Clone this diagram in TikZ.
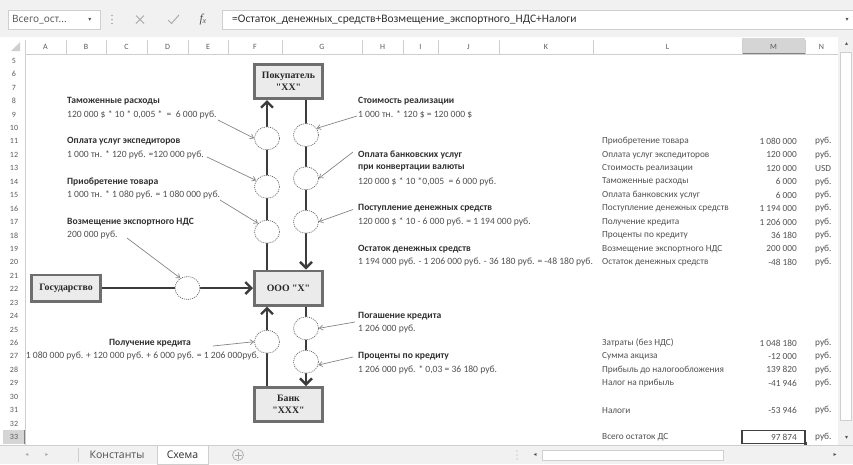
\documentclass[tikz,border=0pt]{standalone}
\usepackage{fontspec}
\setmainfont{Carlito}
\newfontfamily\uifont{Open Sans}
\newfontfamily\boxfont{Liberation Serif}
\newfontfamily\symfont{DejaVu Sans}
\usetikzlibrary{arrows.meta,shapes.geometric}
\definecolor{txt}{HTML}{303030}
\definecolor{txtl}{HTML}{505050}
\definecolor{flowc}{HTML}{3C3C3C}
\definecolor{boxd}{HTML}{6E6E6E}
\definecolor{boxf}{HTML}{EBEBEB}
\definecolor{annc}{HTML}{858585}
\definecolor{circc}{HTML}{6A6A6A}
\definecolor{chrome}{HTML}{F1F1F1}
\definecolor{gridc}{HTML}{CFCFCF}
\definecolor{hdrtxt}{HTML}{5A5A5A}
\definecolor{selc}{HTML}{D5D5D5}
\definecolor{faint}{HTML}{A8A8A8}
\tikzset{
  cell/.style={font=\fontsize{9.6}{11}\selectfont, text=txtl, inner sep=0pt},
  lbl/.style={cell, anchor=west},
  blbl/.style={lbl, font=\fontsize{9.6}{11}\selectfont\bfseries, text=txt},
  val/.style={cell, anchor=east},
  entity/.style={draw=boxd, line width=2.6pt, fill=boxf, font=\boxfont\bfseries\fontsize{9.8}{11.5}\selectfont,
    text=black!85, align=center, minimum width=68.4pt, minimum height=34.4pt, inner sep=0pt},
  flow/.style={draw=flowc, line width=2.8pt, -{Straight Barb[length=6pt,width=12pt,line width=2.4pt]}},
  oval/.style={ellipse, draw=circc, dash pattern=on 1.1pt off 1pt, line width=0.7pt, fill=white,
    minimum width=25pt, minimum height=23pt, inner sep=0pt},
  ann/.style={draw=annc, line width=0.7pt, -{Straight Barb[length=3.5pt,width=5pt,line width=0.7pt]}},
  colhdr/.style={font=\fontsize{8}{9}\selectfont, text=hdrtxt, inner sep=0pt},
  rowhdr/.style={font=\fontsize{8}{9}\selectfont, text=hdrtxt, inner sep=0pt},
  ui/.style={font=\uifont\fontsize{10.5}{12}\selectfont, text=txtl, inner sep=0pt},
  sym/.style={font=\symfont\fontsize{6}{6}\selectfont, text=faint, inner sep=0pt},
  tcell/.style={font=\fontsize{9.3}{10}\selectfont},
}
\begin{document}
\begin{tikzpicture}[x=1pt,y=-1pt]
\useasboundingbox (0,0) rectangle (853,464);
% ---------- chrome: formula bar ----------
\fill[chrome] (0,0) rectangle (853,37);
\draw[gridc, fill=white] (8,10) rectangle (100,29);
\node[anchor=west, font=\uifont\fontsize{10}{12}\selectfont, text=txtl, inner sep=0pt] (namebox) at (12,19.5) {Всего\_ост...};
\node[sym, text=txtl] (nbarrow) at (90,19.5) {▾};
\foreach \yy in {15.5,19.5,23.5} \fill[faint] (112,\yy) circle (0.8pt);
\draw[faint, line width=0.8pt] (136,15.5) -- (144,23.5) (136,23.5) -- (144,15.5);
\draw[faint, line width=0.9pt] (168,20) -- (171.5,23.5) -- (179,15);
\node[font=\boxfont\itshape\fontsize{12}{12}\selectfont, text=txtl, inner sep=0pt] (fx) at (203,19.5) {f\kern-0.3pt\raisebox{-1.5pt}{\fontsize{8}{8}\selectfont x}};
\draw[gridc, fill=white] (222,10) rectangle (854,29);
\node[anchor=west, font=\fontsize{11.5}{13}\selectfont, text=txt, inner sep=0pt] (formula) at (232,19.5)
  {=Остаток\_денежных\_средств+Возмещение\_экспортного\_НДС+Налоги};
\node[sym, text=txtl] (fbarrow) at (847,19.5) {▾};
% ---------- column headers ----------
\fill[white] (0,37) rectangle (838,54);
\fill[selc] (742,37.5) rectangle (805,54);
\draw[gridc] (0,54) -- (838,54);
\draw[black!50, line width=1.2pt] (742,53.5) -- (805,53.5);
\fill[gridc] (20,42) -- (20,51) -- (11,51) -- cycle;
\foreach \a/\b/\l in {25/66/A,66/106/B,106/147/C,147/188/D,188/228/E,228/282/F,282/362/G,362/403/H,403/438/I,438/499/J,499/593/K,593/742/L,742/805/M,805/838/N}{
  \node[colhdr] (col\l) at ({(\a+\b)/2},46.5) {\l};
  \draw[gridc] (\b,40) -- (\b,54);
}
\draw[gridc] (25,40) -- (25,54);
% ---------- row headers ----------
\fill[white] (0,54) rectangle (25,445);
\fill[selc] (3,430.3) rectangle (25,443.7);
\draw[gridc] (25,54) -- (25,445);
\draw[black!50, line width=1.2pt] (24.5,430.3) -- (24.5,443.7);
\foreach \n in {5,...,33}{
  \node[rowhdr] (row\n) at (14,{101+(\n-8)*13.44}) {\n};
}
% ---------- scrollbars and tabs ----------
\fill[chrome] (838,37) rectangle (853,445);
\node[sym, text=txtl] (vup) at (846.5,44) {▴};
\draw[gridc, fill=white] (840.5,52) rectangle (851.5,420);
\node[sym, text=txtl] (vdown) at (846.5,438) {▾};
\fill[chrome] (0,445) rectangle (853,464);
\draw[gridc] (0,445) -- (853,445);
\node[sym] (tabl) at (27,455) {◂};
\node[sym] (tabr) at (47,455) {▸};
\draw[gridc] (78,448) -- (78,462);
\node[ui] (tab1) at (117,454.5) {Константы};
\draw[gridc, fill=white] (157,445) rectangle (208,464.5);
\node[ui, text=txt] (tab2) at (182.5,454.5) {Схема};
\draw[faint, line width=0.7pt] (238,455) circle (5.5pt);
\draw[faint, line width=0.7pt] (234.5,455) -- (241.5,455) (238,451.5) -- (238,458.5);
\foreach \yy in {451,455,459} \fill[faint] (517,\yy) circle (0.7pt);
\node[sym, text=txtl] (hl) at (535,455) {◂};
\draw[gridc, fill=white] (542,450) rectangle (723,460);
\node[sym, text=txtl] (hr) at (835,455) {▸};
% ---------- selected cell ----------
\draw[black!75, line width=1.4pt] (742,430.3) rectangle (805,443.7);
\fill[black!75] (803.5,442.2) rectangle (806.5,445.2);
% ---------- diagram ----------
\node[entity] (buyer) at (288.5,81.5) {Покупатель\\"XX"};
\node[entity] (ooo) at (288.5,288) {ООО "X"};
\node[entity] (bank) at (288.5,404.5) {Банк\\"XXX"};
\node[entity, minimum width=69.4pt, minimum height=26.4pt] (state) at (66,288) {Государство};
\coordinate (xl) at (267,0);
\coordinate (xr) at (306,0);
\draw[flow] (ooo.north -| xl) -- (buyer.south -| xl);
\draw[flow] (buyer.south -| xr) -- (ooo.north -| xr);
\draw[flow] (state.east) -- (ooo.west);
\draw[flow] (bank.north -| xl) -- (ooo.south -| xl);
\draw[flow] (ooo.south -| xr) -- (bank.north -| xr);
\node[oval] (cL1) at (267,138.3) {};
\node[oval] (cL2) at (267,186.7) {};
\node[oval] (cL3) at (267,231.7) {};
\node[oval] (cR1) at (306,135) {};
\node[oval] (cR2) at (306,178.3) {};
\node[oval] (cR3) at (306,221.7) {};
\node[oval] (cH) at (187.5,288) {};
\node[oval] (cLB) at (267,341.7) {};
\node[oval] (cR4) at (306,328.3) {};
\node[oval] (cR5) at (306,361.7) {};
% ---------- left texts ----------
\node[blbl] (t1) at (67,101) {Таможенные расходы};
\node[lbl] (t1v) at (67,114.44) {120 000 \$ * 10 * 0,005 *\ \ =\ \ 6 000 руб.};
\node[blbl] (t2) at (67,141.32) {Оплата услуг экспедиторов};
\node[lbl] (t2v) at (67,154.76) {1 000 тн. * 120 руб. =120 000 руб.};
\node[blbl] (t3) at (67,181.64) {Приобретение товара};
\node[lbl] (t3v) at (67,195.08) {1 000 тн. * 1 080 руб. = 1 080 000 руб.};
\node[blbl] (t4) at (67,221.96) {Возмещение экспортного НДС};
\node[lbl] (t4v) at (67,235.4) {200 000 руб.};
\node[blbl, anchor=center] (t5) at (150,342.92) {Получение кредита};
\node[lbl, anchor=center] (t5v) at (142.5,356.36) {1 080 000 руб. + 120 000 руб. + 6 000 руб. = 1 206 000руб.};
% ---------- right texts ----------
\node[blbl] (s1) at (358,101) {Стоимость реализации};
\node[lbl] (s1v) at (358,114.44) {1 000 тн. * 120 \$ = 120 000 \$};
\node[blbl] (s2) at (358,154.76) {Оплата банковских услуг};
\node[blbl] (s2b) at (358,168.2) {при конвертации валюты};
\node[lbl] (s2v) at (358,181.64) {120 000 \$ * 10 *0,005\ \ = 6 000 руб.};
\node[blbl] (s3) at (358,208.52) {Поступление денежных средств};
\node[lbl] (s3v) at (358,221.96) {120 000 \$ * 10 - 6 000 руб. = 1 194 000 руб.};
\node[blbl] (s4) at (358,248.84) {Остаток денежных средств};
\node[lbl] (s4v) at (358,262.28) {1 194 000 руб. - 1 206 000 руб. - 36 180 руб. = -48 180 руб.};
\node[blbl] (s5) at (358,316.04) {Погашение кредита};
\node[lbl] (s5v) at (358,329.48) {1 206 000 руб.};
\node[blbl] (s6) at (358,356.36) {Проценты по кредиту};
\node[lbl] (s6v) at (358,369.8) {1 206 000 руб. * 0,03 = 36 180 руб.};
% ---------- annotation arrows ----------
\coordinate (a1) at (218,120);
\coordinate (a2) at (207,157);
\coordinate (a3) at (220,200);
\coordinate (a4) at (127,238);
\coordinate (a5) at (357,116);
\coordinate (a6) at (353,152);
\coordinate (a7) at (353,209.5);
\coordinate (a8) at (355,322);
\coordinate (a9) at (353,357);
\coordinate (a10) at (213,346);
\draw[ann] (a1) -- (cL1.west);
\draw[ann] (a2) -- (cL2.150);
\draw[ann] (a3) -- (cL3.137);
\draw[ann] (a4) -- (cH.126);
\draw[ann] (a5) -- (cR1.32);
\draw[ann] (a6) -- (cR2.east);
\draw[ann] (a7) -- (cR3.east);
\draw[ann] (a8) -- (cR4.east);
\draw[ann] (a9) -- (cR5.-15);
\draw[ann] (a10) -- (cLB.west);
% ---------- table ----------
\foreach \n/\lab/\v/\u in {
  11/Приобретение товара/1 080 000/руб.,
  12/Оплата услуг экспедиторов/120 000/руб.,
  13/Стоимость реализации/120 000/USD,
  14/Таможенные расходы/6 000/руб.,
  15/Оплата банковских услуг/6 000/руб.,
  16/Поступление денежных средств/1 194 000/руб.,
  17/Получение кредита/1 206 000/руб.,
  18/Проценты по кредиту/36 180/руб.,
  19/Возмещение экспортного НДС/200 000/руб.,
  20/Остаток денежных средств/-48 180/руб.,
  26/Затраты (без НДС)/1 048 180/руб.,
  27/Сумма акциза/-12 000/руб.,
  28/Прибыль до налогообложения/139 820/руб.,
  29/Налог на прибыль/-41 946/руб.,
  31/Налоги/-53 946/руб.,
  33/Всего остаток ДС/97 874/руб.}{
  \node[lbl, tcell] (L\n) at (602,{101+(\n-8)*13.44}) {\lab};
  \node[val, tcell] (M\n) at (797,{101+(\n-8)*13.44}) {\v};
  \node[lbl, tcell] (N\n) at (815,{101+(\n-8)*13.44}) {\u};
}
\end{tikzpicture}
\end{document}
